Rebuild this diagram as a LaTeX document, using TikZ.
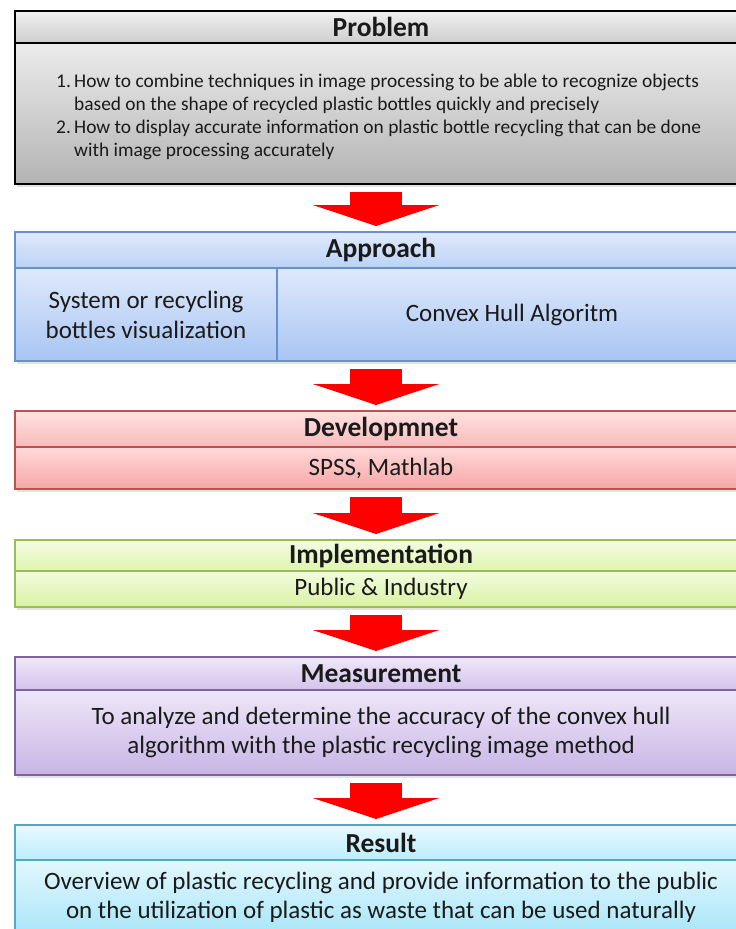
\documentclass[tikz,border=0pt]{standalone}
\usepackage{fontspec}
\setmainfont{Carlito}
\usetikzlibrary{arrows.meta,shadows,calc}
\definecolor{arrowred}{HTML}{FF0000}
\definecolor{pbd}{HTML}{000000}
\definecolor{pht}{HTML}{F0F0F0}\definecolor{phb}{HTML}{CDCDCD}
\definecolor{pbt}{HTML}{ECECEC}\definecolor{pbb}{HTML}{B3B3B3}
\definecolor{abd}{HTML}{6590D2}
\definecolor{aht}{HTML}{E0EAFB}\definecolor{ahb}{HTML}{BBD2F6}
\definecolor{abt}{HTML}{DFE9FB}\definecolor{abb}{HTML}{A8C5F3}
\definecolor{dbd}{HTML}{C0504D}
\definecolor{dht}{HTML}{FFE2E2}\definecolor{dhb}{HTML}{F9BABA}
\definecolor{dbt}{HTML}{FFD9D9}\definecolor{dbb}{HTML}{F6A6A6}
\definecolor{ibd}{HTML}{9BBB59}
\definecolor{iht}{HTML}{F5FBE4}\definecolor{ihb}{HTML}{DEF5AE}
\definecolor{ibt}{HTML}{F3FBE0}\definecolor{ibb}{HTML}{D8F2A2}
\definecolor{mbd}{HTML}{8064A2}
\definecolor{mht}{HTML}{EFE8F8}\definecolor{mhb}{HTML}{D3C2EC}
\definecolor{mbt}{HTML}{EEE7F8}\definecolor{mbb}{HTML}{C8B5E5}
\definecolor{rbd}{HTML}{4BACC6}
\definecolor{rht}{HTML}{E8F8FE}\definecolor{rhb}{HTML}{BDEEFB}
\definecolor{rbt}{HTML}{E3F7FE}\definecolor{rbb}{HTML}{A8E6F8}
\definecolor{txt}{HTML}{1A1A1A}
\begin{document}
\begin{tikzpicture}[x=1pt,y=-1pt,
  box/.style={rectangle, draw, line width=2.2pt, anchor=north west, minimum width=732pt,
    inner sep=0pt, outer sep=0pt, text=txt, drop shadow={shadow xshift=1.5pt, shadow yshift=-3pt, opacity=0.22}},
  hdr/.style={box, font=\fontsize{27.5}{30}\selectfont\bfseries},
  bdy/.style={box, font=\fontsize{25}{29}\selectfont, align=center},
  cell/.style={rectangle, draw, line width=2.2pt, anchor=north west, inner sep=0pt, outer sep=0pt,
    text=txt, font=\fontsize{25}{30}\selectfont, align=center},
  bigarrow/.style={draw=arrowred, line width=52pt, -{Triangle[length=21pt,width=126pt]},
    shorten <=8pt, shorten >=6pt}
]
\useasboundingbox (0,0) rectangle (736,929);
\clip (0,0) rectangle (736,929);
\fill[white] (0,0) rectangle (736,929);
\coordinate (ax) at (376,0);

% Problem
\node[hdr, draw=pbd, top color=pht, bottom color=phb, minimum height=32pt] (probH) at (15,11) {Problem};
\node[bdy, draw=pbd, top color=pbt, bottom color=pbb, minimum height=141pt] (probB) at (probH.south west) {};
\node[anchor=west, inner sep=0pt, text=txt, font=\fontsize{19.4}{23}\selectfont, align=left] (probT) at (56,117)
  {\makebox[18pt][l]{1.}How to combine techniques in image processing to be able to recognize objects\\
   \makebox[18pt][l]{}based on the shape of recycled plastic bottles quickly and precisely\\
   \makebox[18pt][l]{2.}How to display accurate information on plastic bottle recycling that can be done\\
   \makebox[18pt][l]{}with image processing accurately};

% Approach
\node[hdr, draw=abd, top color=aht, bottom color=ahb, minimum height=36pt] (apprH) at (15,232) {Approach};
\node[cell, draw=abd, top color=abt, bottom color=abb, minimum width=262pt, minimum height=93pt,
  drop shadow={shadow xshift=1.5pt, shadow yshift=-3pt, opacity=0.22}] (apprL) at (apprH.south west)
  {System or recycling\\bottles visualization};
\node[cell, draw=abd, top color=abt, bottom color=abb, minimum width=470pt, minimum height=93pt,
  drop shadow={shadow xshift=1.5pt, shadow yshift=-3pt, opacity=0.22}] (apprR) at (apprL.north east)
  {Convex Hull Algoritm};

% Development
\node[hdr, draw=dbd, top color=dht, bottom color=dhb, minimum height=36pt] (devH) at (15,411) {Developmnet};
\node[bdy, draw=dbd, top color=dbt, bottom color=dbb, minimum height=42pt] (devB) at (devH.south west) {SPSS, Mathlab};

% Implementation
\node[hdr, draw=ibd, top color=iht, bottom color=ihb, minimum height=31pt] (impH) at (15,540) {Implementation};
\node[bdy, draw=ibd, top color=ibt, bottom color=ibb, minimum height=36pt] (impB) at (impH.south west) {Public \& Industry};

% Measurement
\node[hdr, draw=mbd, top color=mht, bottom color=mhb, minimum height=33pt] (meaH) at (15,657) {Measurement};
\node[bdy, draw=mbd, top color=mbt, bottom color=mbb, minimum height=85pt] (meaB) at (meaH.south west)
  {To analyze and determine the accuracy of the convex hull\\algorithm with the plastic recycling image method};

% Result
\node[hdr, draw=rbd, top color=rht, bottom color=rhb, minimum height=35pt] (resH) at (15,825) {Result};
\node[bdy, draw=rbd, top color=rbt, bottom color=rbb, minimum height=74pt] (resB) at (resH.south west)
  {Overview of plastic recycling and provide information to the public\\on the utilization of plastic as waste that can be used naturally};

% Arrows
\draw[bigarrow] (probB.south -| ax) -- (apprH.north -| ax);
\draw[bigarrow] (apprL.south -| ax) -- (devH.north -| ax);
\draw[bigarrow] (devB.south -| ax) -- (impH.north -| ax);
\draw[bigarrow] (impB.south -| ax) -- (meaH.north -| ax);
\draw[bigarrow] (meaB.south -| ax) -- (resH.north -| ax);
\end{tikzpicture}
\end{document}
